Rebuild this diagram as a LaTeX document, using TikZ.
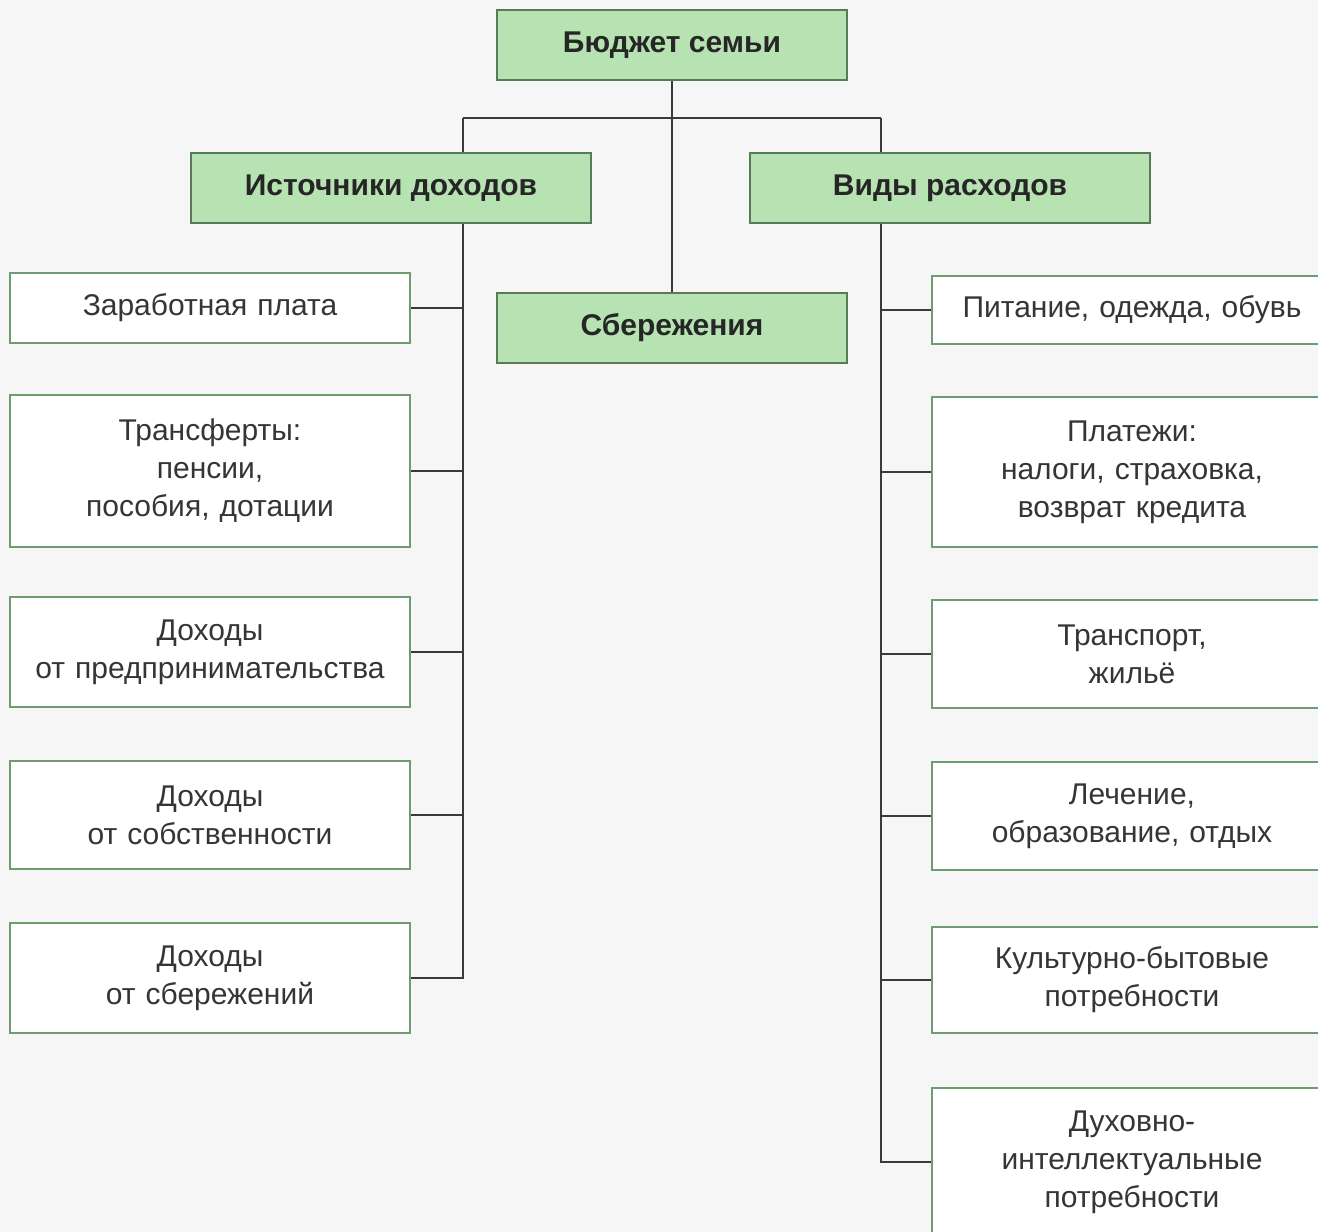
\documentclass[tikz,border=0pt]{standalone}
\usepackage{fontspec}
\setmainfont{Liberation Sans}
\usetikzlibrary{positioning}
\definecolor{pagebg}{HTML}{F5F6F5}
\definecolor{headfill}{HTML}{B7E2B1}
\definecolor{headdraw}{HTML}{587A58}
\definecolor{boxdraw}{HTML}{6E9C6E}
\definecolor{textgray}{HTML}{353535}
\definecolor{linegray}{HTML}{3A3A3A}

\begin{document}
\begin{tikzpicture}[x=0.5pt,y=-0.5pt,
block_head/.style ={rectangle, draw=headdraw, line width=1pt, fill=headfill, text=black!85, font=\bfseries\fontsize{15}{19}\selectfont, minimum width=175pt, minimum height=35pt, inner sep=0pt},
block_item/.style ={rectangle, draw=boxdraw, line width=1pt, fill=white, text=textgray, font=\fontsize{15}{19}\selectfont, text width=194pt, align=center, minimum width=200pt, inner sep=0pt},
line/.style ={draw=linegray, line width=1pt}]
  % page
    \clip (0,0) rectangle (1318,1232);
    \fill[pagebg] (0,0) rectangle (1318,1232);
  % budget and savings
    \node [block_head] (budget) at (672,45) {Бюджет семьи};
    \node [block_head] (savings) at (672,328) {Сбережения};
  % income - left column
    \node [block_item, minimum height=35pt] (wage) at (210,308) {Заработная плата};
    \node [block_item, minimum height=76pt] (transfer) at (210,471) {Трансферты:\\ пенсии,\\ пособия, дотации};
    \node [block_item, minimum height=55pt] (business) at (210,652) {Доходы\\ от предпринимательства};
    \node [block_item, minimum height=54pt] (property) at (210,815) {Доходы\\ от собственности};
    \node [block_item, minimum height=55pt] (from_sav) at (210,978) {Доходы\\ от сбережений};
  % expenses - right column
    \node [block_item, minimum height=34pt] (food) at (1132,310) {Питание, одежда, обувь};
    \node [block_item, minimum height=75pt] (payments) at (1132,472) {Платежи:\\ налоги, страховка,\\ возврат кредита};
    \node [block_item, minimum height=54pt] (transport) at (1132,654) {Транспорт,\\ жильё};
    \node [block_item, minimum height=54pt] (health) at (1132,816) {Лечение,\\ образование, отдых};
    \node [block_item, minimum height=53pt] (culture) at (1132,980) {Культурно-бытовые\\ потребности};
    \node [block_item, minimum height=74pt] (spirit) at (1132,1162) {Духовно-\\ интеллектуальные\\ потребности};
  % junctions of the bar
    \coordinate (bar_l) at (463,118);
    \coordinate (bar_r) at (881,118);
  % connecting nodes with paths
    \begin{scope}[every path/.style=line]
      \path (budget) -- (savings);
      \path (bar_l) -- (bar_r);
      \path (bar_l) |- (from_sav);
      \path (bar_r) |- (spirit);
      \foreach \n in {wage,transfer,business,property}
        \path (\n.east) -- (\n.east -| bar_l);
      \foreach \n in {food,payments,transport,health,culture}
        \path (\n.west) -- (\n.west -| bar_r);
    \end{scope}
  % group headers over the trunks
    \node [block_head, minimum width=200pt] (income) at (391,188) {Источники доходов};
    \node [block_head, minimum width=200pt] (expense) at (950,188) {Виды расходов};
  \end{tikzpicture}
\end{document}
